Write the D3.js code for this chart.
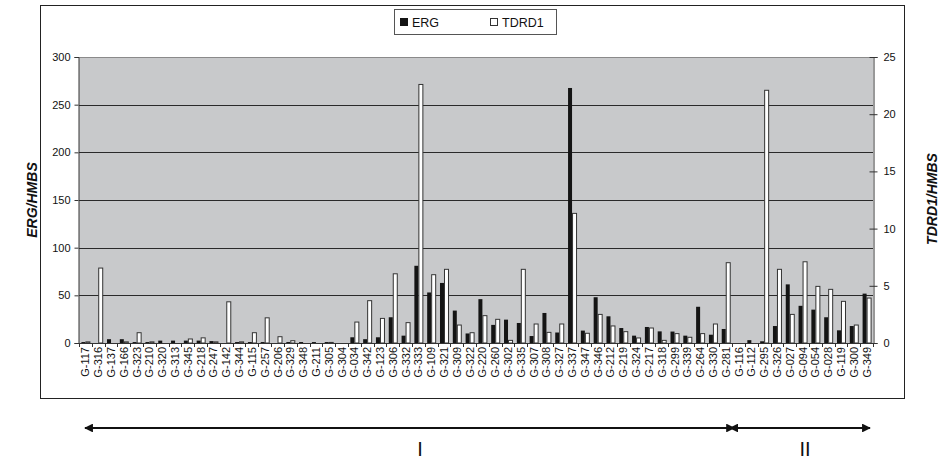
<!DOCTYPE html>
<html>
<head>
<meta charset="utf-8">
<script src="https://cdn.jsdelivr.net/npm/d3@7"></script>
<style>
  body { margin: 0; background: #fff; }
  text { font-family: "Liberation Sans", Arial, sans-serif; fill: #111; }
</style>
</head>
<body>
<div id="chart"></div>
<script>
const samples = ["G-117","G-316","G-137","G-166","G-323","G-210","G-320","G-313","G-345","G-218",
  "G-247","G-142","G-344","G-115","G-257","G-206","G-329","G-348","G-211","G-305",
  "G-304","G-034","G-342","G-123","G-306","G-332","G-333","G-109","G-321","G-309",
  "G-322","G-220","G-260","G-302","G-335","G-307","G-308","G-327","G-337","G-347",
  "G-346","G-212","G-219","G-324","G-217","G-318","G-299","G-339","G-264","G-330",
  "G-281","G-116","G-112","G-295","G-326","G-027","G-094","G-054","G-028","G-119",
  "G-300","G-349"];

// ERG/HMBS, left axis
const erg = [1,0,4,4,1,1,2.5,2.5,2.5,2.5,
  2,0,1,1,1,0,1,1,1,1,
  0,6,4,6,27,7.7,81,53,63,34,
  10,46,19,24.5,21,7.3,31.5,11,267.5,13,
  48,28,15.7,7.7,16.8,12.2,12,7.7,38,8.7,
  14.7,0,3,1.8,17.8,61.5,39,35,27,13.3,
  17.8,51.8];

// TDRD1/HMBS, right axis
const tdrd1 = [0.1,6.55,0,0.1,0.9,0.1,0,0,0.35,0.45,
  0.1,3.6,0.1,0.9,2.2,0.55,0.2,0,0,0.05,
  0,1.83,3.7,2.15,6.05,1.78,22.6,5.97,6.44,1.57,
  0.9,2.39,2.07,0.23,6.44,1.66,0.93,1.66,11.33,0.85,
  2.5,1.49,0.99,0.44,1.31,0.23,0.82,0.5,0.82,1.66,
  7.02,0,0,22.09,6.44,2.5,7.1,4.95,4.69,3.64,
  1.57,3.93];

const leftTicks = [0,50,100,150,200,250,300];
const rightTicks = [0,5,10,15,20,25];
const groups = [{label: "I", from: "G-117", to: "G-281", labelX: 420},
                {label: "II", from: "G-116", to: "G-349", labelX: 805}];

const width = 942, height = 460;
const plot = {left: 79, right: 873, top: 57, bottom: 343};

const svg = d3.select("#chart").append("svg")
  .attr("width", width).attr("height", height);

// outer frame
svg.append("rect")
  .attr("x", 40.5).attr("y", 5.5).attr("width", 864).attr("height", 393)
  .attr("fill", "#fff").attr("stroke", "#222").attr("stroke-width", 1);

const x = d3.scaleBand().domain(samples).range([plot.left, plot.right]).padding(0);
const x1 = d3.scaleBand().domain(["ERG","TDRD1"]).range([0, x.bandwidth()])
  .paddingInner(0).paddingOuter(0.6);
const yL = d3.scaleLinear().domain([0,300]).range([plot.bottom, plot.top]);
const yR = d3.scaleLinear().domain([0,25]).range([plot.bottom, plot.top]);

svg.append("rect")
  .attr("x", plot.left).attr("y", plot.top)
  .attr("width", plot.right - plot.left).attr("height", plot.bottom - plot.top)
  .attr("fill", "#c8c9cb");
svg.append("line")
  .attr("x1", plot.left).attr("x2", plot.right)
  .attr("y1", plot.top + 0.5).attr("y2", plot.top + 0.5)
  .attr("stroke", "#8a8a8a");

// gridlines
svg.append("g").selectAll("line")
  .data(leftTicks.filter(d => d > 0 && d < 300))
  .join("line")
  .attr("x1", plot.left).attr("x2", plot.right)
  .attr("y1", d => Math.round(yL(d)) + 0.5).attr("y2", d => Math.round(yL(d)) + 0.5)
  .attr("stroke", "#2a2a2a").attr("stroke-width", 1);

// bars
const bars = svg.append("g");
bars.selectAll("rect.erg")
  .data(samples.map((s, i) => ({s, v: erg[i]})))
  .join("rect").attr("class", "erg")
  .attr("x", d => x(d.s) + x1("ERG"))
  .attr("width", x1.bandwidth())
  .attr("y", d => yL(d.v))
  .attr("height", d => yL(0) - yL(d.v))
  .attr("fill", "#141414");
bars.selectAll("rect.tdrd1")
  .data(samples.map((s, i) => ({s, v: tdrd1[i]})))
  .join("rect").attr("class", "tdrd1")
  .attr("x", d => x(d.s) + x1("TDRD1") + 0.5)
  .attr("width", x1.bandwidth())
  .attr("y", d => yR(d.v))
  .attr("height", d => yR(0) - yR(d.v))
  .attr("fill", "#fff")
  .attr("stroke", d => d.v > 0 ? "#333" : "none")
  .attr("stroke-width", 1);

// axes
const axL = svg.append("g")
  .attr("transform", `translate(${plot.left - 0.5},0)`)
  .call(d3.axisLeft(yL).tickValues(leftTicks).tickSize(4).tickPadding(4));
const axR = svg.append("g")
  .attr("transform", `translate(${plot.right + 0.5},0)`)
  .call(d3.axisRight(yR).tickValues(rightTicks).tickSize(4).tickPadding(6));
[axL, axR].forEach(a => {
  a.select(".domain").attr("stroke", "#333");
  a.selectAll(".tick line").attr("stroke", "#333");
  a.selectAll("text").style("font-size", "11px").attr("fill", "#111");
});
axR.selectAll(".tick line").attr("x1", -4);

// x axis
svg.append("line")
  .attr("x1", plot.left).attr("x2", plot.right)
  .attr("y1", plot.bottom + 0.5).attr("y2", plot.bottom + 0.5)
  .attr("stroke", "#333");
svg.append("g").selectAll("line")
  .data(samples.concat(["end"]))
  .join("line")
  .attr("x1", (d, i) => Math.round(plot.left + i * x.step()) + 0.5)
  .attr("x2", (d, i) => Math.round(plot.left + i * x.step()) + 0.5)
  .attr("y1", plot.bottom).attr("y2", plot.bottom + 4)
  .attr("stroke", "#333");
svg.append("g").selectAll("text")
  .data(samples)
  .join("text")
  .attr("transform", d => `translate(${x(d) + x.bandwidth() / 2 + 4},${plot.bottom + 4}) rotate(-90)`)
  .attr("text-anchor", "end")
  .style("font-size", "11px")
  .attr("fill", "#222")
  .text(d => d);

// axis titles
svg.append("text")
  .attr("transform", `translate(37,200) rotate(-90)`)
  .attr("text-anchor", "middle")
  .style("font-size", "14px").style("font-weight", "bold").style("font-style", "italic")
  .text("ERG/HMBS");
svg.append("text")
  .attr("transform", `translate(937,199) rotate(-90)`)
  .attr("text-anchor", "middle")
  .style("font-size", "14px").style("font-weight", "bold").style("font-style", "italic")
  .text("TDRD1/HMBS");

// legend
const lg = svg.append("g");
lg.append("rect").attr("x", 394.5).attr("y", 9.5).attr("width", 162).attr("height", 25)
  .attr("fill", "#fff").attr("stroke", "#555");
lg.append("rect").attr("x", 400).attr("y", 18).attr("width", 8).attr("height", 8).attr("fill", "#141414");
lg.append("text").attr("x", 412).attr("y", 26.5).style("font-size", "12.5px").text("ERG");
lg.append("rect").attr("x", 490.5).attr("y", 18.5).attr("width", 7).attr("height", 7)
  .attr("fill", "#fff").attr("stroke", "#333");
lg.append("text").attr("x", 502).attr("y", 26.5).style("font-size", "12.5px").text("TDRD1");

// group arrows
const defs = svg.append("defs");
defs.append("marker").attr("id", "ah").attr("viewBox", "0 0 10 10")
  .attr("refX", 9).attr("refY", 5).attr("markerWidth", 4).attr("markerHeight", 4)
  .attr("orient", "auto-start-reverse")
  .append("path").attr("d", "M0,0 L10,5 L0,10 z").attr("fill", "#111");
const ga = svg.append("g");
groups.forEach(g => {
  const x0 = g.from === samples[0] ? 85 : x(g.from) - 2;
  const xe = g.to === samples[samples.length - 1] ? 870 : x(g.to) + x.bandwidth() + 2;
  ga.append("line")
    .attr("x1", x0).attr("x2", xe).attr("y1", 428).attr("y2", 428)
    .attr("stroke", "#111").attr("stroke-width", 2.2)
    .attr("marker-start", "url(#ah)").attr("marker-end", "url(#ah)");
  ga.append("text")
    .attr("x", g.labelX).attr("y", 456)
    .attr("text-anchor", "middle")
    .style("font-size", "20px")
    .text(g.label);
});
</script>
</body>
</html>
